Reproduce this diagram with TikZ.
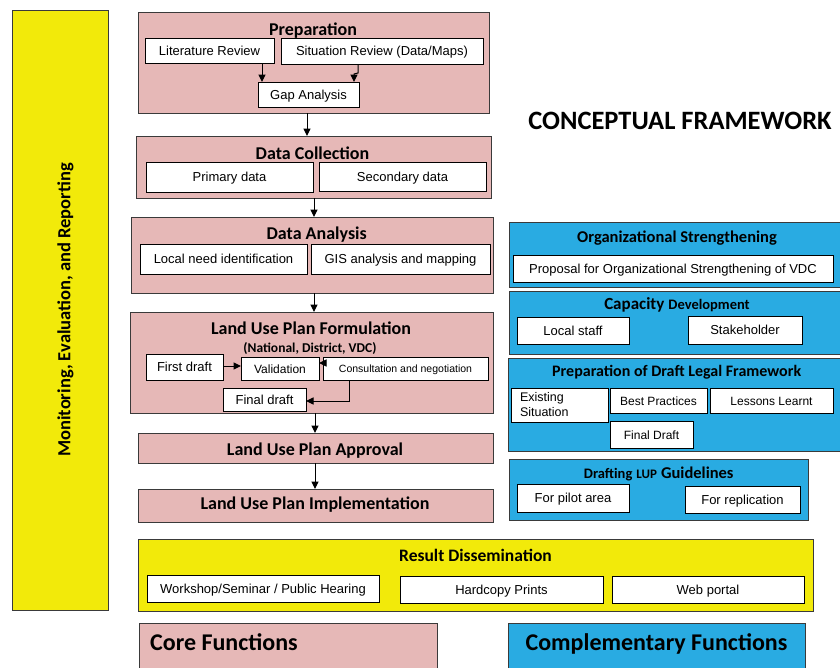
\documentclass[tikz,border=0pt]{standalone}
\usepackage{fontspec}
\setmainfont{Liberation Sans}
\newfontfamily\cali{Carlito}
\usetikzlibrary{arrows.meta}
\definecolor{pinkc}{HTML}{E6B8B7}
\definecolor{bluec}{HTML}{29ABE2}
\definecolor{yelc}{HTML}{F2EA0A}
\definecolor{bord}{HTML}{3A3A3A}
\newcommand\fsz[1]{\fontsize{#1}{#1}\selectfont}
\newcommand\mybox[7]{\node[#2, minimum width={#5pt-#3pt}, minimum height={#6pt-#4pt}] (#1) at ({(#3+#5)/2},{(#4+#6)/2}) {#7};}
\begin{document}
\begin{tikzpicture}[x=1pt,y=-1pt,
 base/.style={inner sep=0pt, outer sep=0pt, line width=1pt},
 pinkbox/.style={base, draw=bord, fill=pinkc},
 bluebox/.style={base, draw=bord, fill=bluec},
 yelbox/.style={base, draw=bord, fill=yelc},
 wbox/.style={base, draw=black, fill=white, line width=1pt, font=\fsz{13}, text height=11pt, text depth=2pt},
 ttl/.style={inner sep=0pt, anchor=base, font=\cali\bfseries\fsz{18}},
 arr/.style={line width=1pt, -{Triangle[length=7.5pt,width=7pt]}}]
\useasboundingbox (0,0) rectangle (840,667);
\clip (0,0) rectangle (840,667);

% left bar
\mybox{mer}{yelbox}{12}{10}{108}{610}{}
\node[rotate=90, font=\cali\bfseries\fsz{18.5}] (mert) at (65.5,310) {Monitoring, Evaluation, and Reporting};

% preparation
\mybox{prep}{pinkbox}{138}{12}{489}{113}{}
\node[ttl] (prept) at (313,35) {Preparation};
\mybox{lit}{wbox}{145}{38}{274}{63}{Literature Review}
\mybox{sit}{wbox}{281}{38}{483}{64}{Situation Review (Data/Maps)}
\mybox{gap}{wbox}{258}{82}{359}{107}{Gap Analysis}

% data collection
\mybox{dc}{pinkbox}{136}{136}{491}{198}{}
\node[ttl] (dct) at (312.5,159) {Data Collection};
\mybox{prim}{wbox}{146}{162}{313}{192}{Primary data}
\mybox{sec}{wbox}{319}{162}{486}{191}{Secondary data}

% data analysis
\mybox{da}{pinkbox}{131}{217}{493}{293}{}
\node[ttl] (dat) at (316.7,239.3) {Data Analysis};
\mybox{lni}{wbox}{140}{244}{307}{274}{Local need identification}
\mybox{gis}{wbox}{311}{244}{490}{274}{GIS analysis and mapping}

% LUP formulation
\mybox{lup}{pinkbox}{130}{312}{493}{413}{}
\node[ttl] (lupt) at (311,334.3) {Land Use Plan Formulation};
\node[ttl, font=\cali\bfseries\fsz{13.5}] (lups) at (310,352.7) {(National, District, VDC)};
\mybox{first}{wbox}{146}{354}{223}{380}{First draft}
\mybox{val}{wbox, font=\fsz{12}}{241}{357}{319}{380}{Validation}
\mybox{cons}{wbox, font=\fsz{10.5}, text height=9pt}{323}{357}{488}{380}{Consultation and negotiation}
\mybox{final}{wbox}{223}{388}{306}{411}{Final draft}

% approval, implementation
\mybox{appr}{pinkbox}{138}{433}{493}{463}{}
\node[ttl] (apprt) at (315,455) {Land Use Plan Approval};
\mybox{impl}{pinkbox}{138}{489}{493}{522}{}
\node[ttl] (implt) at (315,509) {Land Use Plan Implementation};

% title
\node[ttl, font=\cali\bfseries\fsz{26.5}] (cf) at (680,129.3) {CONCEPTUAL FRAMEWORK};

% right column
\mybox{org}{bluebox}{509}{222}{842}{287}{}
\node[ttl, font=\cali\bfseries\fsz{16.5}] (orgt) at (677,242.3) {Organizational Strengthening};
\mybox{prop}{wbox}{513}{255}{833}{282}{Proposal for Organizational Strengthening of VDC}

\mybox{cap}{bluebox}{509}{291}{842}{354}{}
\node[ttl] (capt) at (677,309.3) {{\fsz{17}Capacity} {\fsz{14.5}Development}};
\mybox{lstaff}{wbox}{517}{317}{629}{344}{Local staff}
\mybox{stake}{wbox}{688}{316}{802}{344}{Stakeholder}

\mybox{legal}{bluebox}{508}{358}{842}{451}{}
\node[ttl, font=\cali\bfseries\fsz{16}] (legalt) at (676.7,376.7) {Preparation of Draft Legal Framework};
\node[base, draw=black, fill=white, line width=1pt, anchor=north west, minimum height=34pt,
      text width=79pt, inner xsep=9pt, align=left, font=\fontsize{12.5}{15}\selectfont] (exist) at (511,388) {Existing\\Situation};
\mybox{best}{wbox, font=\fsz{12}}{610}{388}{707}{413}{Best Practices}
\mybox{less}{wbox, font=\fsz{12}}{710}{388}{833}{413}{Lessons Learnt}
\mybox{fdraft}{wbox, font=\fsz{12}}{610}{421}{693}{448}{Final Draft}

\mybox{guide}{bluebox}{509}{459}{808}{520}{}
\node[ttl] (guidet) at (658.7,478.3) {{\fsz{14.5}Drafting} {\fsz{13}LUP} {\fsz{16.5}Guidelines}};
\mybox{pilot}{wbox}{517}{484}{629}{512}{For pilot area\hspace{14pt}}
\mybox{repl}{wbox}{685}{486}{800}{513}{For replication}

% result dissemination
\mybox{res}{yelbox}{138}{539}{813}{611}{}
\node[ttl, font=\cali\bfseries\fsz{17.5}] (rest) at (475.5,561.7) {Result Dissemination};
\mybox{work}{wbox}{147}{575}{379}{602}{Workshop/Seminar / Public Hearing}
\mybox{hard}{wbox}{400}{576}{603}{603}{Hardcopy Prints}
\mybox{web}{wbox}{612}{576}{804}{603}{Web portal}

% legend
\mybox{core}{pinkbox}{139}{623}{437}{672}{}
\node[ttl, anchor=base west, font=\cali\bfseries\fsz{24}] (coret) at (150,650) {Core Functions};
\mybox{comp}{bluebox}{508}{623}{805}{672}{}
\node[ttl, font=\cali\bfseries\fsz{24}] (compt) at (656.5,650) {Complementary Functions};

% arrows
\draw[arr] (lit.south -| 262,0) -- (gap.north -| 262,0);
\draw[arr] (sit.south -| 358,0) -- (358,73) -- (354,74) -- (gap.north -| 354,0);
\draw[arr] (prep.south -| 307,0) -- (dc.north -| 307,0);
\draw[arr] (dc.south -| 314,0) -- (da.north -| 314,0);
\draw[arr] (da.south -| 314,0) -- (lup.north -| 314,0);
\draw[arr] (lup.south -| 315,0) -- (appr.north -| 315,0);
\draw[arr] (appr.south -| 315,0) -- (impl.north -| 315,0);
\draw[arr] (first.east |- 0,366) -- (val.west |- 0,366);
\draw[arr] (cons.west |- 0,363) -- (val.east |- 0,363);
\draw[arr] (cons.south -| 349,0) |- (final.east |- 0,401);
\end{tikzpicture}
\end{document}
